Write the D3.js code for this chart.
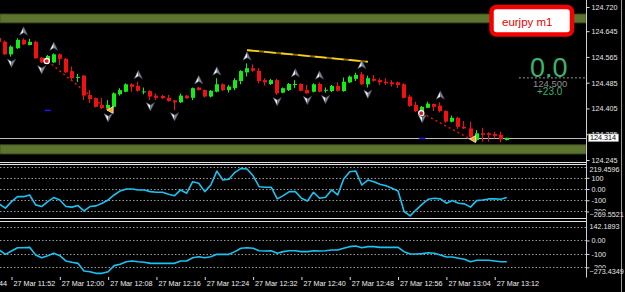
<!DOCTYPE html>
<html>
<head>
<meta charset="utf-8">
<script src="https://cdn.jsdelivr.net/npm/d3@7"></script>
<style>
html, body { margin: 0; padding: 0; background: #000; overflow: hidden; }
svg { display: block; font-family: "Liberation Sans", Arial, sans-serif; }
</style>
</head>
<body>
<svg id="chart"></svg>
<script>
// eurjpy m1, 27 Mar, one bar per minute starting 11:50
const firstBar = "11:50";
const opens  = [124.624,124.612,124.573,124.592,124.618,124.602,124.612,124.563,124.550,124.548,
                124.573,124.559,124.521,124.501,124.507,124.447,124.437,124.416,124.400,124.410,
                124.449,124.457,124.480,124.475,124.456,124.459,124.445,124.444,124.438,124.430,
                124.424,124.445,124.438,124.470,124.462,124.442,124.457,124.480,124.462,124.468,
                124.490,124.517,124.530,124.522,124.493,124.481,124.493,124.454,124.462,124.480,
                124.481,124.462,124.457,124.481,124.462,124.459,124.475,124.459,124.486,124.497,
                124.511,124.480,124.497,124.493,124.488,124.486,124.486,124.480,124.442,124.416,
                124.397,124.407,124.419,124.414,124.397,124.364,124.376,124.348,124.343,124.307,
                124.328,124.328,124.326,124.323,124.307];
const highs  = [124.630,124.616,124.601,124.623,124.623,124.621,124.615,124.565,124.571,124.576,
                124.576,124.562,124.535,124.512,124.509,124.462,124.439,124.438,124.431,124.455,
                124.468,124.483,124.483,124.488,124.470,124.462,124.452,124.447,124.447,124.431,
                124.451,124.447,124.470,124.472,124.464,124.462,124.499,124.483,124.478,124.499,
                124.524,124.545,124.542,124.530,124.499,124.497,124.497,124.470,124.484,124.493,
                124.483,124.478,124.483,124.486,124.470,124.478,124.486,124.501,124.507,124.516,
                124.519,124.507,124.509,124.499,124.499,124.493,124.488,124.483,124.447,124.426,
                124.413,124.426,124.420,124.424,124.399,124.383,124.379,124.366,124.364,124.338,
                124.345,124.331,124.333,124.333,124.314];
const lows   = [124.608,124.571,124.566,124.590,124.602,124.601,124.559,124.546,124.548,124.546,
                124.540,124.515,124.493,124.487,124.431,124.422,124.408,124.403,124.397,124.408,
                124.445,124.455,124.457,124.457,124.449,124.431,124.431,124.434,124.426,124.400,
                124.422,124.434,124.431,124.461,124.439,124.439,124.455,124.459,124.454,124.462,
                124.480,124.504,124.519,124.483,124.476,124.478,124.447,124.452,124.459,124.468,
                124.458,124.451,124.455,124.455,124.454,124.456,124.458,124.457,124.484,124.490,
                124.478,124.470,124.488,124.478,124.478,124.473,124.468,124.436,124.410,124.394,
                124.394,124.406,124.397,124.393,124.361,124.362,124.341,124.341,124.312,124.302,
                124.302,124.302,124.312,124.300,124.306];
const closes = [124.611,124.573,124.597,124.618,124.604,124.612,124.561,124.548,124.568,124.573,
                124.559,124.517,124.499,124.503,124.445,124.434,124.410,124.406,124.416,124.452,
                124.462,124.480,124.472,124.460,124.458,124.442,124.438,124.437,124.428,124.424,
                124.445,124.437,124.468,124.462,124.442,124.460,124.480,124.462,124.473,124.493,
                124.521,124.530,124.522,124.490,124.486,124.493,124.452,124.468,124.481,124.481,
                124.460,124.452,124.480,124.457,124.463,124.475,124.460,124.488,124.504,124.509,
                124.480,124.499,124.491,124.486,124.483,124.480,124.478,124.438,124.413,124.397,
                124.410,124.420,124.410,124.397,124.364,124.376,124.348,124.343,124.317,124.328,
                124.323,124.323,124.320,124.309,124.314];

// first indicator window
const ind1 = [-135,-170,-112,-68,-68,-53,-141,-156,-112,-76,-97,-156,-161,-147,-194,-156,-150,-126,-97,-53,
              -17,1,1,-8,-8,-23,-29,-29,-46,-59,-8,-37,65,51,-23,36,160,80,87,149,
              184,178,118,21,16,16,-88,-59,-23,-23,-82,-106,-29,-82,-73,-8,-53,89,154,160,
              36,80,65,42,30,7,-17,-200,-239,-185,-135,-91,-82,-88,-126,-103,-126,-132,-161,-103,
              -97,-88,-88,-91,-76];
// second indicator window
const ind2 = [-71,-103,-78,-54,-54,-51,-108,-128,-113,-95,-113,-152,-162,-170,-227,-232,-244,-244,-232,-187,
              -177,-158,-152,-158,-162,-170,-170,-170,-170,-170,-152,-152,-128,-121,-128,-121,-103,-103,-103,-83,
              -58,-54,-58,-76,-78,-76,-95,-83,-76,-76,-83,-83,-76,-78,-76,-71,-71,-58,-46,-41,
              -54,-46,-46,-51,-51,-51,-51,-83,-100,-100,-98,-91,-95,-108,-123,-123,-132,-140,-158,-147,
              -147,-147,-152,-158,-158];

const priceTicks = [124.720, 124.645, 124.565, 124.485, 124.405, 124.325, 124.245];
const timeTicks = ["11:44","11:52","12:00","12:08","12:16","12:24","12:32","12:40","12:48","12:56","13:04","13:12"];
const ind1Range = [-269.5521, 219.4596];
const ind1Grid = [200, 100, 0, -100, -200];
const ind1Labels = ["100", "0.00", "-100", "-200"];
const ind2Range = [-273.4349, 142.1893];
const ind2Grid = [100, 0, -100, -200];
const ind2Labels = ["0.00", "-100", "-200"];

const upFractals = [4, 9, 23, 33, 36, 41, 49, 53, 60, 73];
const downFractals = [2, 7, 18, 25, 29, 46, 51, 54, 61, 70];
const redLines = [[[8, 124.552], [18, 124.400]], [[70, 124.390], [78, 124.310]]];
const yellowLine = [[41, 124.586], [61, 124.550]];
const blueMarks = [[8, 124.399], [70, 124.312]];
const bandTop = [124.671, 124.698];
const bandBottom = [124.264, 124.292];
const bidPrice = 124.314;
const levelPrice = 124.500;
const symbolLabel = "eurjpy m1";
const bigValue = "0.0";
const levelText = "124.500";
const diffText = "+23.0";

const width = 625, height = 292;
const plotRight = 586;

const svg = d3.select("#chart").attr("width", width).attr("height", height);
svg.append("rect").attr("width", width).attr("height", height).attr("fill", "#000");

const toMin = t => { const [h, m] = t.split(":").map(Number); return h * 60 + m; };

// scales
const x = d3.scaleLinear().domain([0, 84]).range([-0.58, 506.78]);
const yMain = d3.scaleLinear().domain([124.245, 124.720]).range([160, 7]);
const y1 = d3.scaleLinear().domain(ind1Range).range([219.3, 164.4]);
const y2 = d3.scaleLinear().domain(ind2Range).range([277.3, 221.3]);

const defs = svg.append("defs");
function clip(id, y0, h) {
    defs.append("clipPath").attr("id", id).append("rect")
        .attr("x", 0).attr("y", y0).attr("width", plotRight).attr("height", h);
}
clip("cMain", 0, 162);
clip("c1", 164.5, 54);
clip("c2", 221.5, 56);

// ---------- main window ----------
const g = svg.append("g").attr("clip-path", "url(#cMain)");

[bandTop, bandBottom].forEach(b => {
    g.append("rect")
        .attr("x", 0).attr("width", plotRight)
        .attr("y", yMain(b[1])).attr("height", yMain(b[0]) - yMain(b[1]))
        .attr("fill", "#5d7431").attr("stroke", "#43561f").attr("stroke-width", 1);
});

// bid line
g.append("line")
    .attr("x1", 0).attr("x2", plotRight)
    .attr("y1", Math.round(yMain(bidPrice)) + 0.5).attr("y2", Math.round(yMain(bidPrice)) + 0.5)
    .attr("stroke", "#bdbdbd").attr("stroke-width", 1);

// level line by the big number
g.append("line")
    .attr("x1", x(86)).attr("x2", plotRight)
    .attr("y1", yMain(levelPrice)).attr("y2", yMain(levelPrice))
    .attr("stroke", "#9a9a9a").attr("stroke-dasharray", "2,2");

// yellow trend line
g.append("line")
    .attr("x1", x(yellowLine[0][0])).attr("y1", yMain(yellowLine[0][1]))
    .attr("x2", x(yellowLine[1][0])).attr("y2", yMain(yellowLine[1][1]))
    .attr("stroke", "#7d6a12").attr("stroke-width", 2);
g.append("line")
    .attr("x1", x(yellowLine[0][0])).attr("y1", yMain(yellowLine[0][1]))
    .attr("x2", x(yellowLine[1][0])).attr("y2", yMain(yellowLine[1][1]))
    .attr("stroke", "#ffd21a").attr("stroke-width", 1.6).attr("stroke-dasharray", "12,5");

// candles
const bars = d3.range(opens.length);
const cg = g.selectAll(".bar").data(bars).enter().append("g").attr("class", "bar");
cg.append("line")
    .attr("x1", i => Math.round(x(i)) - 0.5).attr("x2", i => Math.round(x(i)) - 0.5)
    .attr("y1", i => yMain(highs[i])).attr("y2", i => yMain(lows[i]))
    .attr("stroke", i => closes[i] >= opens[i] ? "#12ee12" : "#f21010").attr("stroke-width", 1);
cg.append("rect")
    .attr("x", i => Math.round(x(i)) - 2)
    .attr("width", 4)
    .attr("y", i => yMain(Math.max(opens[i], closes[i])))
    .attr("height", i => Math.max(1, Math.abs(yMain(opens[i]) - yMain(closes[i]))))
    .attr("fill", i => closes[i] >= opens[i] ? "#12ee12" : "#f21010");

// red dashed lines + end markers
redLines.forEach(l => {
    g.append("line")
        .attr("x1", x(l[0][0])).attr("y1", yMain(l[0][1]))
        .attr("x2", x(l[1][0])).attr("y2", yMain(l[1][1]))
        .attr("stroke", "#e01010").attr("stroke-width", 1.5).attr("stroke-dasharray", "2,3");
    g.append("circle")
        .attr("cx", x(l[0][0]) - 1).attr("cy", yMain(l[0][1]))
        .attr("r", 2.6).attr("fill", "#e81818").attr("stroke", "#fff").attr("stroke-width", 1.3);
    g.append("path")
        .attr("transform", `translate(${x(l[1][0]) + 2},${yMain(l[1][1])})`)
        .attr("d", "M-3,0L3,-3.5L3,3.5Z")
        .attr("fill", "#ffa424").attr("stroke", "#fff3d0").attr("stroke-width", 0.8);
});

// blue marks
blueMarks.forEach(b => {
    g.append("line")
        .attr("x1", x(b[0]) - 3).attr("x2", x(b[0]) + 3)
        .attr("y1", yMain(b[1])).attr("y2", yMain(b[1]))
        .attr("stroke", "#1a1aff").attr("stroke-width", 1.5);
});

// fractal arrows
function arrow(cx, cy, up) {
    const s = up ? 1 : -1;
    const a = g.append("g").attr("transform", `translate(${cx},${cy}) scale(1,${s})`);
    a.append("path").attr("d", "M0,-4.5L0,1.5L-4.2,4Z").attr("fill", "#f2f2f6");
    a.append("path").attr("d", "M0,-4.5L4.2,4L0,1.5Z").attr("fill", "#7c8496");
    a.append("path").attr("d", "M0,-4.5L4.2,4L0,1.5L-4.2,4Z")
        .attr("fill", "none").attr("stroke", "#3a3f4a").attr("stroke-width", 0.5);
}
upFractals.forEach(i => arrow(x(i), yMain(highs[i]) - 7, true));
downFractals.forEach(i => arrow(x(i), yMain(lows[i]) + 6.5, false));

// big number block
svg.append("text").attr("x", 530).attr("y", 77)
    .attr("font-size", 27).attr("fill", "#3cb46e").text(bigValue);
svg.append("text").attr("x", 533).attr("y", 86.5)
    .attr("font-size", 9.5).attr("fill", "#8e8e8e").text(levelText);
svg.append("text").attr("x", 537).attr("y", 95)
    .attr("font-size", 10).attr("fill", "#3cb46e").text(diffText);

// symbol label box
svg.append("rect")
    .attr("x", 491.5).attr("y", 7).attr("width", 80.5).attr("height", 27.5).attr("rx", 5)
    .attr("fill", "#fff").attr("stroke", "#f40000").attr("stroke-width", 4.5);
svg.append("text").attr("x", 502).attr("y", 26)
    .attr("font-size", 11.5).attr("fill", "#e80000").text(symbolLabel);

// ---------- indicator windows ----------
function indicatorWindow(clipId, y, grid, values) {
    const w = svg.append("g").attr("clip-path", `url(#${clipId})`);
    w.selectAll(".grid").data(grid).enter().append("line")
        .attr("x1", 0).attr("x2", plotRight)
        .attr("y1", d => Math.round(y(d)) + 0.5).attr("y2", d => Math.round(y(d)) + 0.5)
        .attr("stroke", "#9a9a9a").attr("stroke-dasharray", "1.5,2");
    w.append("path")
        .datum(values)
        .attr("fill", "none").attr("stroke", "#19c3f2").attr("stroke-width", 1.6)
        .attr("stroke-linejoin", "round")
        .attr("d", d3.line().x((d, i) => x(i)).y(d => y(d)));
}
indicatorWindow("c1", y1, ind1Grid, ind1);
indicatorWindow("c2", y2, ind2Grid, ind2);

// separators
const sep = "#e4e4e4";
[162.5, 164.5, 218.5, 221.5].forEach(yy => {
    svg.append("line").attr("x1", 0).attr("x2", plotRight).attr("y1", yy).attr("y2", yy)
        .attr("stroke", sep).attr("stroke-width", 1);
});
svg.append("line").attr("x1", plotRight + 0.5).attr("x2", plotRight + 0.5)
    .attr("y1", 0).attr("y2", 277.5).attr("stroke", "#cfcfcf");
svg.append("line").attr("x1", 621.5).attr("x2", 621.5)
    .attr("y1", 0).attr("y2", height).attr("stroke", "#9a9a9a");

// ---------- axes ----------
function styleAxis(ax) {
    ax.select(".domain").remove();
    ax.selectAll("line").attr("stroke", "#dcdcdc");
    ax.selectAll("text").attr("fill", "#e6e6e6").attr("font-size", 7.2)
        .attr("font-family", "'Liberation Sans', Arial, sans-serif");
}

const priceAxis = svg.append("g")
    .attr("transform", `translate(${plotRight + 0.5},0)`)
    .call(d3.axisRight(yMain).tickValues(priceTicks).tickFormat(d3.format(".3f")).tickSize(3).tickPadding(2));
styleAxis(priceAxis);

const a1 = svg.append("g")
    .attr("transform", `translate(${plotRight + 0.5},0)`)
    .call(d3.axisRight(y1).tickValues(ind1Grid.slice(1)).tickFormat((d, i) => ind1Labels[i]).tickSize(3).tickPadding(2));
styleAxis(a1);
const a2 = svg.append("g")
    .attr("transform", `translate(${plotRight + 0.5},0)`)
    .call(d3.axisRight(y2).tickValues(ind2Grid.slice(1)).tickFormat((d, i) => ind2Labels[i]).tickSize(3).tickPadding(2));
styleAxis(a2);

// range labels (max at top, min at bottom) with black backing
function rangeLabel(yPos, label) {
    svg.append("rect").attr("x", 589).attr("y", yPos - 3.8).attr("width", 32).attr("height", 7.8).attr("fill", "#000");
    svg.append("text").attr("x", 589.5).attr("y", yPos).attr("dy", "0.34em")
        .attr("font-size", 7.2).attr("fill", "#e6e6e6").text(label);
}
rangeLabel(y1(ind1Range[1]) + 5.6, d3.format(".4f")(ind1Range[1]));
rangeLabel(y1(ind1Range[0]) - 4.3, d3.format(".4f")(ind1Range[0]));
rangeLabel(y2(ind2Range[1]) + 5.4, d3.format(".4f")(ind2Range[1]));
rangeLabel(y2(ind2Range[0]) - 5.6, d3.format(".4f")(ind2Range[0]));

// bid price box
const by = yMain(bidPrice);
svg.append("rect").attr("x", 588.5).attr("y", by - 3.8).attr("width", 30).attr("height", 7.6)
    .attr("fill", "#fff").attr("stroke", "#9a9a9a").attr("stroke-width", 0.6);
svg.append("text").attr("x", 590).attr("y", by).attr("dy", "0.34em")
    .attr("font-size", 7.2).attr("fill", "#000").text(d3.format(".3f")(bidPrice));

// time axis
const tickIdx = timeTicks.map(t => toMin(t) - toMin(firstBar));
const timeAxis = svg.append("g")
    .attr("transform", "translate(0,277)")
    .call(d3.axisBottom(x).tickValues(tickIdx).tickFormat((d, i) => "27 Mar " + timeTicks[i]).tickSize(3).tickSizeOuter(0));
styleAxis(timeAxis);
timeAxis.selectAll("text").attr("text-anchor", "start").attr("x", 1.5).attr("y", 3.5).attr("fill", "#f0f0f0");
</script>
</body>
</html>
